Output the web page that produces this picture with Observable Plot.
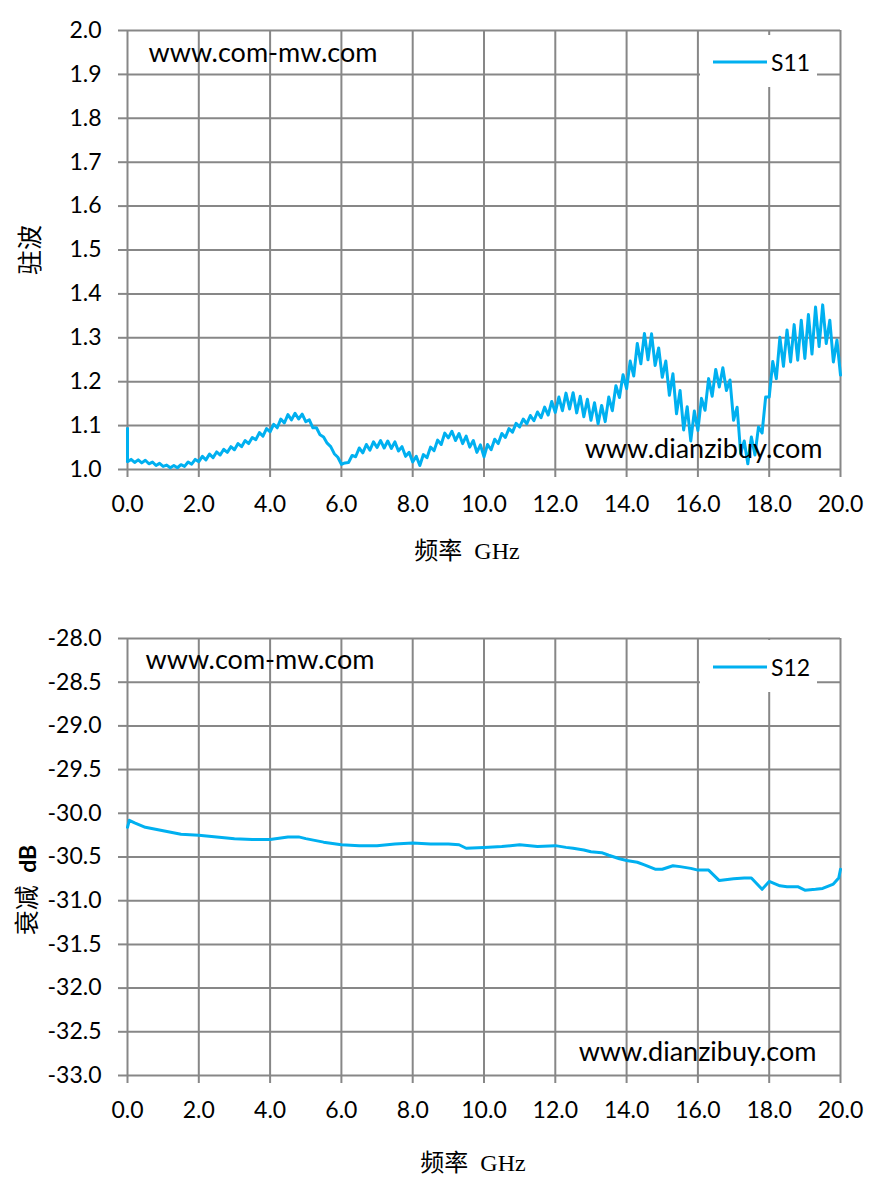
<!DOCTYPE html>
<html><head><meta charset="utf-8">
<script src="https://cdn.jsdelivr.net/npm/d3@7"></script>
<script src="https://cdn.jsdelivr.net/npm/@observablehq/plot@0.6"></script>
<style>
body{margin:0;background:#fff;}
svg{display:block;}
</style></head><body>
<div id="c"></div>
<script>
// ---------- data ----------
const xTicks = [0, 2, 4, 6, 8, 10, 12, 14, 16, 18, 20];
const s11Ticks = [1.0, 1.1, 1.2, 1.3, 1.4, 1.5, 1.6, 1.7, 1.8, 1.9, 2.0];
const s12Ticks = [-28.0, -28.5, -29.0, -29.5, -30.0, -30.5, -31.0, -31.5, -32.0, -32.5, -33.0];

// S11 (VSWR) sampled on a 0.1 GHz sweep from 0 to 20 GHz
const s11SweepStep = 0.1;
const s11Values = [
  1.018,1.023,1.016,1.022,1.015,1.021,1.013,1.017,1.009,1.014,
  1.007,1.010,1.004,1.009,1.004,1.011,1.007,1.017,1.012,1.023,
  1.018,1.030,1.022,1.035,1.027,1.040,1.033,1.046,1.039,1.052,
  1.045,1.059,1.052,1.066,1.059,1.073,1.068,1.084,1.076,1.093,
  1.086,1.103,1.095,1.115,1.106,1.125,1.113,1.128,1.115,1.126,
  1.109,1.113,1.095,1.095,1.079,1.074,1.060,1.052,1.036,1.028,
  1.012,1.015,1.016,1.032,1.029,1.049,1.038,1.057,1.044,1.063,
  1.050,1.066,1.049,1.065,1.048,1.063,1.042,1.052,1.030,1.039,
  1.017,1.030,1.009,1.034,1.027,1.051,1.043,1.067,1.057,1.083,
  1.072,1.087,1.066,1.082,1.059,1.076,1.051,1.066,1.039,1.056,
  1.029,1.057,1.045,1.069,1.059,1.082,1.073,1.093,1.085,1.105,
  1.097,1.115,1.104,1.123,1.111,1.131,1.118,1.142,1.124,1.155,
  1.130,1.165,1.134,1.174,1.138,1.175,1.129,1.167,1.120,1.160,
  1.112,1.152,1.104,1.146,1.109,1.165,1.134,1.191,1.164,1.216,
  1.184,1.247,1.213,1.287,1.241,1.310,1.250,1.309,1.237,1.277,
  1.210,1.247,1.169,1.218,1.127,1.180,1.090,1.143,1.065,1.133,
  1.089,1.162,1.135,1.207,1.167,1.228,1.188,1.232,1.180,1.204,
  1.112,1.142,1.036,1.065,1.013,1.074,1.033,1.097,1.083,1.165,
  1.165,1.246,1.207,1.301,1.235,1.318,1.245,1.330,1.249,1.340,
  1.253,1.353,1.263,1.370,1.280,1.375,1.287,1.340,1.245,1.295,
  1.215
];
// initial spike at 0 GHz
const s11SpikeFreq = [0];
const s11SpikeLow = [1.018];
const s11SpikeHigh = [1.095];

// S12 (attenuation, dB)
const s12Freq = [0.0,0.05,0.2,0.5,1.0,1.5,2.0,2.5,3.0,3.5,4.0,4.5,4.8,5.0,5.5,6.0,6.5,7.0,7.5,8.0,
  8.5,9.0,9.3,9.5,10.0,10.5,11.0,11.5,12.0,12.3,12.5,12.8,13.0,13.3,13.5,13.8,14.0,14.3,14.5,14.8,
  15.0,15.3,15.5,15.8,16.0,16.3,16.6,17.0,17.3,17.5,17.8,18.0,18.3,18.5,18.8,19.0,19.3,19.5,19.8,19.95,20.0];
const s12Values = [-30.16,-30.08,-30.11,-30.16,-30.20,-30.24,-30.25,-30.27,-30.29,-30.30,-30.30,-30.27,-30.27,-30.29,-30.33,-30.36,-30.37,-30.37,-30.35,-30.34,
  -30.35,-30.35,-30.36,-30.40,-30.39,-30.38,-30.36,-30.38,-30.37,-30.39,-30.40,-30.42,-30.44,-30.45,-30.48,-30.52,-30.54,-30.56,-30.59,-30.64,
  -30.64,-30.60,-30.61,-30.63,-30.65,-30.65,-30.77,-30.75,-30.74,-30.74,-30.87,-30.78,-30.83,-30.84,-30.84,-30.88,-30.87,-30.86,-30.81,-30.74,-30.64];

// ---------- chart ----------
const LINE = "#00B0F0", GRID = "#878787";
const latin = "Lato, 'Noto Sans', sans-serif";
const titleFont = "'Liberation Serif', 'Noto Sans CJK SC', serif";

function chart({data, spike, yDomain, yTicks, height, marginTop, marginBottom, legendText, legendY,
                noteLeft, noteTopDy, noteBottomDx, noteBottomDy, xTitleX, xTitleY, yTitleX, yTitleY, yTitle}) {
  const marks = [
    Plot.gridX(xTicks, {stroke: GRID, strokeOpacity: 1, strokeWidth: 2}),
    Plot.gridY(yTicks, {stroke: GRID, strokeOpacity: 1, strokeWidth: 2}),
    Plot.axisX(xTicks, {tickSize: 8, tickPadding: 18, stroke: GRID, strokeWidth: 2, fill: "black",
      tickFormat: d => d.toFixed(1), label: null}),
    Plot.axisY(yTicks, {tickSize: 9, tickPadding: 17, stroke: GRID, strokeWidth: 2, fill: "black",
      tickFormat: d => d.toFixed(1), label: null}),
    Plot.line(data, {x: "f", y: "v", stroke: LINE, strokeWidth: 3, strokeLinejoin: "round"}),
  ];
  if (spike) marks.push(Plot.ruleX(spike, {x: "f", y1: "lo", y2: "hi", stroke: LINE, strokeWidth: 3}));
  marks.push(
    Plot.text(["www.com-mw.com"], {frameAnchor: "top-left", dx: noteLeft, dy: noteTopDy, textAnchor: "start", lineAnchor: "middle", fontSize: 27, fill: "black"}),
    Plot.text(["www.dianzibuy.com"], {frameAnchor: "bottom-right", dx: noteBottomDx, dy: noteBottomDy, textAnchor: "end", lineAnchor: "middle", fontSize: 27, fill: "black"})
  );
  const svg = Plot.plot({
    width: 882, height, marginTop, marginBottom, marginLeft: 127, marginRight: 42,
    style: {fontFamily: latin, fontSize: "23px", color: "black", background: "white"},
    x: {domain: [0, 20]},
    y: {domain: yDomain},
    marks
  });
  const s = d3.select(svg);
  // legend
  const lg = s.append("g");
  lg.append("rect").attr("x", 700).attr("y", legendY - 27).attr("width", 117).attr("height", 52).attr("fill", "white");
  lg.append("line").attr("x1", 713).attr("x2", 767).attr("y1", legendY).attr("y2", legendY)
    .attr("stroke", LINE).attr("stroke-width", 3);
  lg.append("text").attr("x", 771).attr("y", legendY).attr("dominant-baseline", "central")
    .attr("text-anchor", "start")
    .attr("font-family", latin).attr("font-size", 23).attr("fill", "black").text(legendText);
  // x title
  s.append("text").attr("x", xTitleX).attr("y", xTitleY).attr("text-anchor", "middle").attr("dominant-baseline", "central")
    .attr("font-family", titleFont).attr("font-size", 24).attr("fill", "black")
    .style("white-space", "pre").text("频率  GHz");
  // y title
  const yt = s.append("text").attr("transform", `translate(${yTitleX},${yTitleY}) rotate(-90)`)
    .attr("text-anchor", "middle").attr("dominant-baseline", "central")
    .attr("font-family", titleFont).attr("font-size", 25).attr("fill", "black")
    .style("white-space", "pre");
  yTitle.forEach(([t, bold]) => {
    const ts = yt.append("tspan").text(t);
    if (bold) ts.attr("font-family", latin).attr("font-weight", "bold").attr("font-size", 23);
  });
  return svg;
}

const s11Data = s11Values.map((v, i) => ({f: i * s11SweepStep, v}));
const s11Spike = s11SpikeFreq.map((f, i) => ({f, lo: s11SpikeLow[i], hi: s11SpikeHigh[i]}));
const s12Data = s12Freq.map((f, i) => ({f, v: s12Values[i]}));

const c = document.getElementById("c");
c.append(chart({data: s11Data, spike: s11Spike, yDomain: [1, 2], yTicks: s11Ticks, height: 594,
  marginTop: 30, marginBottom: 125, legendText: "S11", legendY: 62,
  noteLeft: 21, noteTopDy: 23, noteBottomDx: -18, noteBottomDy: -20,
  xTitleX: 467, xTitleY: 551, yTitleX: 30, yTitleY: 250, yTitle: [["驻波", false]]}));
c.append(chart({data: s12Data, spike: null, yDomain: [-33, -28], yTicks: s12Ticks, height: 595,
  marginTop: 44, marginBottom: 114, legendText: "S12", legendY: 73,
  noteLeft: 18, noteTopDy: 22, noteBottomDx: -24, noteBottomDy: -23,
  xTitleX: 473, xTitleY: 569, yTitleX: 27, yTitleY: 296, yTitle: [["衰减  ", false], ["dB", true]]}));
</script>
</body></html>
